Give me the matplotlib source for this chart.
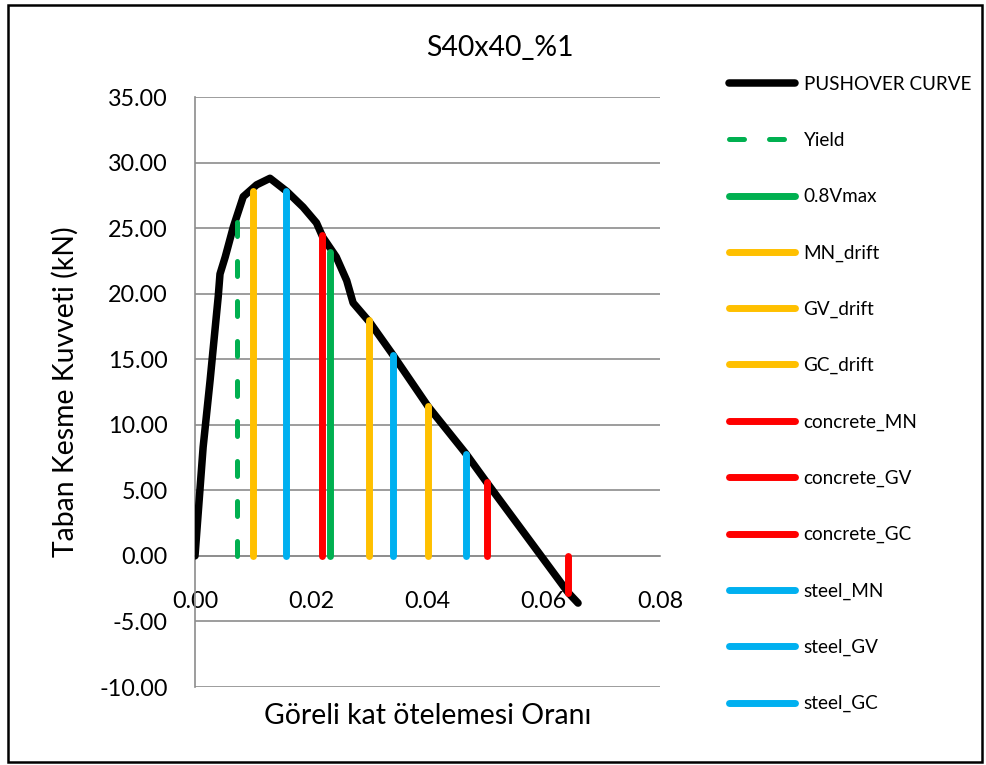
import matplotlib
matplotlib.use("Agg")
import matplotlib.pyplot as plt
from matplotlib.patches import Rectangle
from matplotlib.ticker import FuncFormatter, MultipleLocator

plt.rcParams["font.family"] = ["Lato", "DejaVu Sans"]

# pushover curve (drift ratio, base shear kN)
drift = [0.0, 0.0014, 0.0026, 0.0040, 0.0043, 0.0052, 0.0066, 0.0083, 0.0106,
         0.0129, 0.0158, 0.0186, 0.0209, 0.0220, 0.0243, 0.0261, 0.0272,
         0.0301, 0.0341, 0.0401, 0.0466, 0.0502, 0.0642, 0.0659]
base_shear = [0.0, 8.3, 13.4, 19.8, 21.5, 22.8, 25.1, 27.4, 28.3,
              28.8, 27.8, 26.6, 25.4, 24.3, 22.8, 21.0, 19.3,
              17.8, 15.3, 11.4, 7.8, 5.6, -2.8, -3.6]

# limit states
ls_names = ["Yield", "0.8Vmax", "MN_drift", "GV_drift", "GC_drift",
            "concrete_MN", "concrete_GV", "concrete_GC",
            "steel_MN", "steel_GV", "steel_GC"]
ls_drift = [0.00716, 0.0232, 0.0099, 0.0300, 0.0401,
            0.0218, 0.0502, 0.0642,
            0.0156, 0.0341, 0.0466]
ls_shear = [25.5, 23.2, 27.8, 18.0, 11.4,
            24.5, 5.6, -2.8,
            27.8, 15.3, 7.8]
ls_colors = ["#00B050", "#00B050", "#FFC000", "#FFC000", "#FFC000",
             "#FF0000", "#FF0000", "#FF0000",
             "#00B0F0", "#00B0F0", "#00B0F0"]

W, H = 987, 765
fig = plt.figure(figsize=(W / 100, H / 100), dpi=100)
ax = fig.add_axes([195 / W, 1 - 687 / H, 465 / W, 590 / H])

grid_c = "#8c8c8c"
handles = []
h, = ax.plot(drift, base_shear, color="black", lw=5.4,
             solid_capstyle="round", solid_joinstyle="round", zorder=3)
handles.append(h)
for name, x, y, c in zip(ls_names, ls_drift, ls_shear, ls_colors):
    if name == "Yield":
        h, = ax.plot([x, x], [0, y], color=c, lw=3.6, ls=(0, (3, 5)),
                     dash_capstyle="round", zorder=4)
    else:
        h, = ax.plot([x, x], [0, y], color=c, lw=5.0,
                     solid_capstyle="round", zorder=4)
    handles.append(h)

ax.set_xlim(0, 0.08)
ax.set_ylim(-10, 35)
ax.xaxis.set_major_locator(MultipleLocator(0.02))
ax.yaxis.set_major_locator(MultipleLocator(5))
ax.xaxis.set_major_formatter(FuncFormatter(lambda v, p: "%.2f" % v))
ax.yaxis.set_major_formatter(FuncFormatter(lambda v, p: "%.2f" % v))
ax.yaxis.grid(True, color=grid_c, lw=1.2)
ax.set_axisbelow(True)
for s in ["top", "right"]:
    ax.spines[s].set_visible(False)
ax.spines["bottom"].set_position(("data", 0))
ax.spines["bottom"].set_color(grid_c)
ax.spines["bottom"].set_linewidth(1.2)
ax.spines["left"].set_color(grid_c)
ax.spines["left"].set_linewidth(1.2)
ax.tick_params(axis="x", length=0, pad=25, labelsize=16.8)
ax.tick_params(axis="y", length=0, pad=19.5, labelsize=16.8)

fig.text(500 / W, 1 - 48 / H, "S40x40_%1", ha="center", va="center",
         fontsize=20.4)
fig.text(65 / W, 1 - 392 / H, "Taban Kesme Kuvveti (kN)", rotation=90,
         ha="center", va="center", fontsize=20.4)
fig.text(427.5 / W, 1 - 716 / H, "Göreli kat ötelemesi Oranı",
         ha="center", va="center", fontsize=20.4)

fig.legend(handles, ["PUSHOVER CURVE"] + ls_names, loc="upper left",
           bbox_to_anchor=(729 / W, 1 - 76 / H), frameon=False,
           fontsize=13.6, handlelength=3.5, handletextpad=0.45,
           labelspacing=2.07, borderpad=0, borderaxespad=0)

fig.patches.append(Rectangle((8 / W, 1 - 762 / H), 974 / W, 757.5 / H,
                             transform=fig.transFigure, fill=False,
                             edgecolor="black", lw=1.8))

fig.savefig("out.png", dpi=100)
